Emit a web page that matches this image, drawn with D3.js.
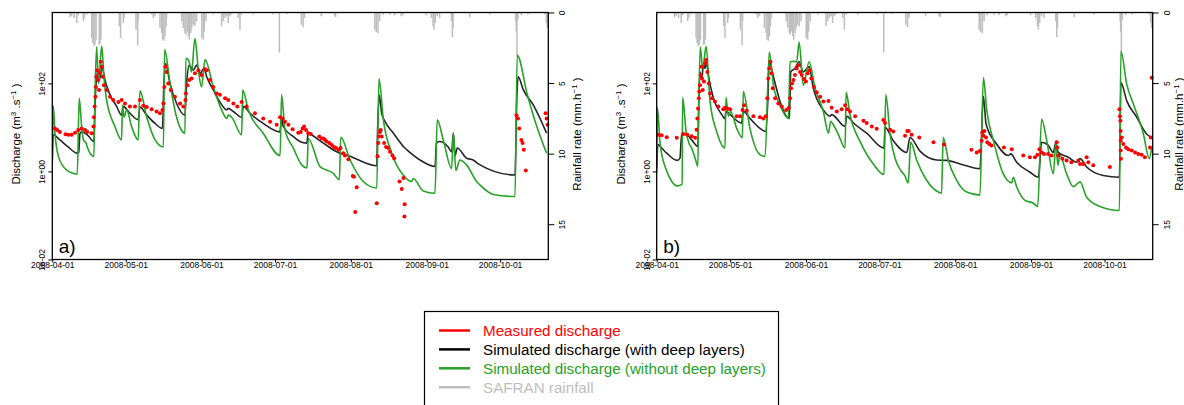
<!DOCTYPE html>
<html>
<head>
<meta charset="utf-8">
<script src="https://cdn.jsdelivr.net/npm/d3@7"></script>
<style>
  body { margin: 0; background: #fff; }
  svg { display: block; font-family: "Liberation Sans", Arial, Helvetica, sans-serif; }
</style>
</head>
<body>
<svg id="chart" width="1184" height="405"></svg>
<script>
// days are counted from 2008-04-01, discharge in m3/s, rain in mm/h
const monthTicks = ["2008-04-01", "2008-05-01", "2008-06-01", "2008-07-01", "2008-08-01", "2008-09-01", "2008-10-01"];
const qTicks = [0.01, 1, 100];
const qTickLabels = ["1e-02", "1e+00", "1e+02"];
const rainTicks = [0, 5, 10, 15];
const panelTags = ["a)", "b)"];
const legendLabels = ["Measured discharge", "Simulated discharge (with deep layers)", "Simulated discharge (without deep layers)", "SAFRAN rainfall"];

const rain = [[7.2,0.34],[7.9,0.27],[8.9,0.39],[10.0,0.74],[10.6,0.2],[12.7,0.62],[13.1,0.39],[14.1,0.15],
  [16.1,1.81],[16.5,2.16],[17.0,2.4],[17.45,2.28],[17.9,1.93],[19.2,2.28],[19.5,2.2],[19.9,1.93],
  [27.4,0.98],[27.9,1.81],[29.0,0.74],[29.3,0.39],[34.2,1.22],[34.9,2.33],[35.1,0.62],
  [40.6,0.15],[41.3,0.39],[42.0,0.27],[44.0,1.1],[44.7,1.45],[45.1,1.93],[45.6,2.0],[46.1,1.69],[46.5,0.98],[46.7,0.39],
  [52.9,0.62],[53.5,1.1],[54.2,1.45],[54.6,1.57],[55.2,1.34],[55.6,1.69],[56.0,1.93],[56.6,1.45],[57.0,1.1],[57.6,0.86],[58.3,0.98],[59.0,0.62],
  [61.1,1.81],[61.7,1.93],[62.1,1.34],[62.8,0.62],[65.8,0.15],[69.2,0.98],[69.9,0.62],[70.6,0.39],[71.3,0.27],[71.9,0.74],[72.6,0.27],[73.3,0.15],
  [76.0,0.39],[76.7,1.22],[77.4,0.15],[82.1,0.15],[90.1,0.15],[92.8,2.83],[96.0,0.11],
  [101.8,0.86],[102.5,1.05],[103.1,0.39],[109.9,0.27],[115.4,0.27],[115.8,0.34],
  [131.8,1.22],[132.4,1.38],[133.1,1.45],[133.8,0.62],[135.1,0.2],[137.9,0.15],[139.9,0.2],[142.6,0.27],[143.3,0.2],
  [152.8,0.2],[154.9,0.39],[155.6,0.98],[156.0,1.22],[156.5,0.74],[157.3,0.27],[158.3,0.39],
  [163.1,0.62],[163.5,1.76],[163.8,1.1],[170.6,0.34],[178.7,0.15],
  [189.4,0.62],[189.6,1.34],[189.9,3.11],[190.3,0.51],[191.7,0.2],[194.4,0.15],[201.2,0.15],[201.9,0.74],[202.3,1.1]];

// panel a
const measuredA = [[1.1,9.5],[2.0,8.7],[3.1,7.9],[5.4,7.0],[6.5,6.8],[7.9,6.8],[9.3,7.6],[10.6,8.7],[12.0,9.5],[13.4,8.7],[14.3,7.9],[16.1,7.4],
  [16.8,10.5],[17.0,17],[17.3,30],[17.6,50],[17.8,83],[18.0,141],[18.3,200],[18.7,119],[19.1,71],[19.5,169],[19.8,309],[20.2,240],[20.6,141],[21.1,91],
  [22.2,71],[23.6,50],[24.9,42],[27.0,38],[28.3,42],[29.7,35],[31.7,30],[33.8,30],[35.8,42],[37.2,31],[38.6,29],[40.6,26],[42.6,23],[44.0,21],
  [45.0,25],[45.4,35],[45.8,83],[46.2,240],[46.7,182],[47.4,100],[48.4,71],[50.1,50],[52.2,35],[53.5,30],[54.4,42],[54.6,59],[55.2,91],[56.0,119],
  [56.9,129],[58.3,169],[59.7,200],[61.0,155],[62.4,209],[63.1,200],[64.4,119],[65.8,83],[67.2,59],[68.5,55],[70.6,46],[71.9,42],[74.0,35],[75.6,30],
  [77.4,38],[79.4,30],[82.8,21],[86.2,16],[89.0,13.5],[91.7,11.5],
  [93.1,17],[94.1,16],[95.1,13.5],[96.5,11.5],[98.2,9.1],[100.5,7.6],[101.5,7.9],[102.3,9.5],[102.9,10.5],[103.7,8.7],[104.6,7.4],[105.6,7.1],
  [109.1,6.2],[110.1,5.6],[110.8,5.6],[111.5,5.2],[112.1,4.8],[113.2,4.4],[114.2,4.0],[115.1,3.6],[115.9,3.4],[116.9,3.1],[117.8,3.4],[118.9,2.6],
  [119.6,2.3],[121.0,1.9],[122.8,0.79],[123.3,0.76],[123.8,0.12],[124.4,0.44],
  [132.6,0.19],[132.9,2.2],[133.2,4.4],[133.5,6.2],[133.9,7.9],[134.2,8.7],[134.6,6.2],[135.6,4.4],[136.4,3.6],[137.3,3.4],[138.0,2.8],[139.0,2.3],
  [139.7,2.0],[141.9,0.59],[142.8,0.40],[143.5,0.71],[144.0,0.18],[143.9,0.095],
  [189.7,19],[190.3,16],[190.8,9.5],[191.7,5.2],[192.2,4.4],[192.7,3.1],[193.5,1.05],[201.6,21],[202.0,16],[202.4,11.5]];

const deepA = [[0,1.8],[0.4,6.8],[3.1,5.2],[6.5,3.6],[10.2,2.6],[10.8,2.7],[11.3,7.2],[12.0,7.9],[14.3,6.8],[17.0,4.8],[17.4,25],[18.1,141],
  [18.9,200],[19.5,130],[20.2,260],[21.5,119],[23.6,55],[26.3,30],[28.3,19],[29.0,30],[31.1,23],[35.1,15],[35.8,29],[38.6,19],[42.0,12.3],
  [45.0,9.5],[45.6,100],[46.3,284],[48.1,100],[50.8,35],[54.2,19],[54.9,100],[56.0,260],[57.6,200],[59.0,260],[60.4,169],[62.0,219],[63.1,141],
  [65.8,71],[68.5,38],[71.3,25],[71.9,27],[74.0,23],[77.4,17],[78.1,30],[80.8,21],[86.2,12.3],[93.0,7.9],[93.7,16],[94.4,10.5],[98.5,6.2],
  [101.2,4.8],[104.0,4.4],[104.6,7.6],[106.0,6.8],[110.8,4.4],[116.2,2.8],[121.7,2.2],[124.4,1.9],[132.6,1.35],[132.9,7.4],[133.6,54],[134.6,21],
  [136.0,13.5],[139.4,7.4],[144.1,3.4],[145.5,2.9],[150.3,1.82],[156.4,1.29],[157.0,4.4],[158.2,4.8],[161.8,3.6],[163.2,2.8],[163.9,7.4],
  [164.6,2.3],[165.5,3.4],[169.3,2.0],[172.0,1.82],[173.0,1.66],[174.8,1.41],[189.1,0.83],[189.8,42],[190.4,141],[192.5,71],[196.6,32],[202.0,7.4]];

const shallowA = [[0,1.4],[0.4,31],[1.1,7.4],[2.5,2.2],[5.9,1.07],[10.2,0.87],[11.0,46],[12.0,10.5],[12.7,5.2],[13.8,4.4],[14.3,3.6],[17.0,2.2],
  [17.4,42],[18.1,676],[18.9,100],[20.2,708],[21.1,141],[22.2,42],[25.6,10.5],[28.3,5.2],[28.7,32],[29.3,17],[30.4,25],[32.4,10.5],[35.1,5.2],
  [35.8,68],[38.6,17],[42.0,5.2],[45.4,3.6],[45.9,589],[48.1,100],[50.8,17],[54.2,7.4],[54.6,372],[55.7,339],[56.9,182],[58.3,1047],[59.7,200],
  [61.0,83],[62.4,347],[65.8,83],[69.2,25],[71.3,16],[71.9,19],[73.3,17],[77.4,6.8],[77.8,71],[80.1,25],[86.2,7.4],[93.1,2.3],[93.7,56],[95.1,8.7],
  [98.5,3.4],[101.9,1.41],[104.1,1.2],[104.6,5.6],[109.4,1.29],[114.8,0.91],[117.3,0.65],[117.9,6.0],[121.7,1.82],[127.1,0.59],[132.6,0.42],
  [133.5,129],[135.3,14.8],[138.7,2.6],[143.4,0.83],[146.9,0.59],[147.5,0.69],[151.6,0.36],[156.4,0.32],[157.3,14.8],[159.8,5.1],[163.2,1.17],
  [163.9,7.4],[164.9,1.05],[166.6,1.82],[169.3,1.41],[173.4,0.59],[174.8,0.49],[180.2,0.3],[189.1,0.27],[190.0,437],[194.0,59],[198.0,10.5],[202.0,2.6]];

// panel b
const measuredB = [[0.7,6.8],[2.0,6.6],[4.1,6.0],[8.2,5.8],[10.9,7.1],[12.5,6.8],[14.3,6.3],[15.7,5.8],[16.3,8.9],[16.6,16],[16.9,27],[17.2,46],
  [17.4,65],[17.7,91],[18.0,155],[18.3,240],[18.5,129],[18.8,71],[19.3,110],[19.8,282],[20.2,339],[20.7,182],[21.3,100],[21.8,59],[22.6,46],
  [23.8,39],[25.2,30],[27.2,26],[27.9,28],[28.9,27],[30.0,26],[32.7,18],[34.1,18],[35.1,25],[35.7,32],[36.8,24],[39.5,18],[42.2,17],[43.6,16],
  [44.6,18],[45.2,46],[45.6,129],[46.0,219],[46.5,309],[46.9,170],[47.4,78],[48.4,46],[49.7,35],[51.1,30],[52.9,25],[54.0,28],[54.5,46],[54.9,78],
  [55.3,100],[55.9,120],[56.5,155],[57.2,219],[57.9,257],[58.6,182],[59.3,155],[60.2,126],[61.0,110],[61.7,170],[62.4,200],[63.2,129],[64.3,83],
  [65.4,63],[66.8,50],[68.1,39],[70.2,40],[71.5,28],[73.6,23],[75.6,26],[77.0,32],[77.9,26],[79.0,23],[81.1,18],[84.5,14.1],[85.8,12.6],[87.9,10.5],
  [89.9,9.3],[92.6,14.8],[93.3,12.6],[95.4,8.9],[96.7,8.1],[101.5,6.5],[102.4,8.3],[103.0,8.3],[104.2,6.8],[107.3,5.9],[113.1,4.6],[117.4,4.1],
  [128.6,3.1],[130.8,2.7],[132.1,2.9],[132.8,5.0],[133.1,7.8],[133.5,6.5],[133.9,8.3],[134.6,5.9],[135.1,4.6],[135.9,4.2],[136.8,3.9],[141.9,3.5],
  [145.1,3.2],[149.8,2.3],[152.5,2.1],[154.6,2.1],[155.6,2.4],[156.4,3.2],[157.3,2.7],[158.3,2.5],[160.0,2.5],[161.4,2.3],[163.5,4.6],[163.7,3.5],
  [164.1,2.3],[165.8,1.95],[167.5,1.78],[169.5,1.62],[172.3,1.78],[173.0,1.48],[174.3,1.48],[175.7,2.1],[176.4,1.62],[178.4,1.38],[185.2,1.26],
  [189.1,26],[189.3,18],[189.5,14.1],[189.6,8.3],[189.6,5.0],[189.6,3.0],[189.7,1.95],[190.0,5.9],[190.7,4.2],[191.8,3.5],[192.7,3.2],[194.1,3.0],
  [195.5,2.7],[196.8,2.5],[198.2,2.4],[199.5,2.1],[201.6,3.5],[201.9,5.9],[202.3,134]];

const deepB = [[0,1.2],[0.5,4.1],[2.0,3.4],[4.1,2.6],[8.4,1.78],[9.5,2.0],[10.2,7.1],[12.3,6.8],[14.3,5.2],[16.8,3.7],[17.2,39],[17.7,182],
  [18.4,129],[19.1,257],[19.8,219],[20.2,339],[21.1,155],[23.2,46],[26.6,19.5],[27.9,15.8],[28.3,23],[30.0,19.5],[34.7,12.6],[35.4,23],[38.1,16],
  [42.2,9.5],[44.5,8.1],[45.4,39],[46.0,309],[47.7,141],[50.4,39],[54.2,16],[54.8,182],[56.5,219],[58.2,309],[59.9,182],[62.3,240],[64.0,78],
  [68.1,25],[70.8,18],[71.5,19.5],[77.0,10.5],[77.7,18],[80.4,12.6],[85.8,7.4],[92.9,3.4],[93.3,10],[96.7,5.0],[102.2,2.7],[103.5,5.9],[107.6,2.9],
  [114.4,1.82],[118.5,1.78],[124.0,1.48],[132.1,1.15],[133.5,51],[134.6,12],[138.9,4.2],[143.7,2.3],[144.7,2.5],[147.1,1.62],[152.6,0.96],
  [156.0,0.74],[157.3,4.6],[160.0,3.9],[162.1,2.7],[163.1,4.6],[164.1,2.7],[168.2,2.1],[171.6,1.62],[173.0,1.95],[175.7,1.26],[182.5,0.81],
  [189.1,0.74],[189.7,105],[192.1,40],[196.2,17],[200.2,7.1],[202.3,5.9]];

const shallowB = [[0,0.93],[0.3,28],[1.4,4.1],[4.1,1.02],[6.1,0.6],[8.4,0.47],[10.4,0.51],[10.6,48],[12.0,8.1],[13.4,4.1],[14.3,3.4],[15.7,2.0],
  [16.8,1.32],[17.2,39],[17.8,676],[18.8,219],[20.2,692],[21.8,39],[24.5,8.1],[27.9,3.4],[28.3,48],[29.3,18],[30.2,23],[32.7,9.5],[35.0,5.8],
  [35.4,65],[38.1,9.5],[42.2,2.4],[44.3,2.2],[46.0,513],[47.7,91],[50.4,32],[53.8,16],[54.5,309],[55.9,316],[57.2,309],[58.2,871],[59.9,91],
  [62.3,309],[64.7,78],[68.1,23],[70.2,7.4],[71.1,13.8],[72.2,11.5],[74.3,6.8],[77.0,3.4],[77.4,63],[79.0,19.5],[83.1,4.8],[88.6,1.45],[92.9,0.85],
  [93.6,56],[95.4,6.8],[97.4,2.0],[99.5,1.1],[101.4,0.8],[102.8,0.55],[103.8,4.6],[106.3,1.78],[110.3,0.63],[115.1,0.34],[116.4,0.32],[117.1,5.9],
  [119.2,1.78],[122.6,0.63],[126.7,0.34],[132.1,0.29],[133.5,135],[134.9,24],[137.6,5.0],[141.6,0.89],[145.1,0.55],[145.7,0.74],[147.1,0.45],
  [150.5,0.22],[153.9,0.19],[155.7,0.16],[157.3,15.5],[159.4,5.0],[162.1,0.89],[163.2,5.0],[163.9,1.38],[164.8,2.3],[167.5,0.89],[170.3,0.45],
  [173.0,0.58],[175.7,0.26],[181.2,0.16],[189.1,0.13],[189.7,537],[192.1,95],[194.8,34],[198.9,7.1],[201.3,1.95],[202.3,3.5]];

const colMeasured = "#ff0000";
const colDeep = "#262626";
const colShallow = "#27a127";
const colRain = "#bebebe";

const start = Date.UTC(2008, 3, 1);
const toDate = d => new Date(start + d * 864e5);
const parseDay = d3.utcParse("%Y-%m-%d");

const svg = d3.select("#chart");
const W = 496, plotTop = 12.5, plotBottom = 259.5;

function drawPanel(left, idx, measured, deep, shallow) {
  const g = svg.append("g");

  const x = d3.scaleUtc().domain([toDate(0), toDate(202.7)]).range([left, left + W]);
  const y = d3.scaleLog().domain([0.01, Math.pow(10, 3.61)]).range([plotBottom, plotTop]);
  const yRain = d3.scaleLinear().domain([0, 17.5]).range([plotTop, plotBottom]);

  const clipId = "clip" + idx;
  g.append("clipPath").attr("id", clipId)
    .append("rect").attr("x", left).attr("y", plotTop).attr("width", W).attr("height", plotBottom - plotTop);

  const plot = g.append("g").attr("clip-path", `url(#${clipId})`);

  plot.append("g").selectAll("line")
    .data(rain)
    .join("line")
    .attr("x1", d => x(toDate(d[0])))
    .attr("x2", d => x(toDate(d[0])))
    .attr("y1", yRain(0))
    .attr("y2", d => yRain(d[1]))
    .attr("stroke", colRain)
    .attr("stroke-width", 1.5);

  const line = d3.line()
    .curve(d3.curveMonotoneX)
    .x(d => x(toDate(d[0])))
    .y(d => y(d[1]));

  plot.append("path").datum(deep)
    .attr("d", line).attr("fill", "none")
    .attr("stroke", colDeep).attr("stroke-width", 1.6);

  plot.append("path").datum(shallow)
    .attr("d", line).attr("fill", "none")
    .attr("stroke", colShallow).attr("stroke-width", 1.6);

  g.append("g").selectAll("circle")
    .data(measured)
    .join("circle")
    .attr("cx", d => x(toDate(d[0])))
    .attr("cy", d => y(d[1]))
    .attr("r", 2)
    .attr("fill", colMeasured);

  // axes
  const xAxis = g.append("g")
    .attr("transform", `translate(0,${plotBottom})`)
    .call(d3.axisBottom(x).tickValues(monthTicks.map(parseDay)).tickFormat(d3.utcFormat("%Y-%m-%d")).tickSize(3));
  xAxis.selectAll("text").attr("y", 2.5).attr("font-size", 8.5).attr("fill", "#000");

  const yAxis = g.append("g")
    .attr("transform", `translate(${left},0)`)
    .call(d3.axisLeft(y).tickValues(qTicks).tickFormat((d, i) => qTickLabels[i]).tickSize(4));
  yAxis.selectAll("text")
    .attr("transform", "rotate(-90)")
    .attr("text-anchor", "middle")
    .attr("x", 0).attr("y", -7).attr("dy", 0)
    .attr("font-size", 8.5).attr("fill", "#000");

  const rAxis = g.append("g")
    .attr("transform", `translate(${left + W},0)`)
    .call(d3.axisRight(yRain).tickValues(rainTicks).tickSize(6));
  rAxis.selectAll("text")
    .attr("transform", "rotate(-90)")
    .attr("text-anchor", "middle")
    .attr("x", 0).attr("y", 17).attr("dy", 0)
    .attr("font-size", 8.5).attr("fill", "#000");

  [xAxis, yAxis, rAxis].forEach(a => {
    a.select(".domain").remove();
    a.selectAll("line").attr("stroke", "#000");
  });

  g.append("rect")
    .attr("x", left).attr("y", plotTop)
    .attr("width", W).attr("height", plotBottom - plotTop)
    .attr("fill", "none").attr("stroke", "#000").attr("stroke-width", 1.3);

  // axis titles
  const ql = g.append("text")
    .attr("transform", `translate(${left - 32},134) rotate(-90)`)
    .attr("text-anchor", "middle")
    .attr("font-size", 11.5);
  ql.append("tspan").text("Discharge (m");
  ql.append("tspan").attr("dy", -4).attr("font-size", 8).text("3");
  ql.append("tspan").attr("dy", 4).text(" .s");
  ql.append("tspan").attr("dy", -4).attr("font-size", 8).text("\u22121");
  ql.append("tspan").attr("dy", 4).text(" )");

  // the right title sits at the page edge on panel b, keep it inside
  const rx = Math.min(left + W + 33, 1182.5);
  const rl = g.append("text")
    .attr("transform", `translate(${rx},134) rotate(-90)`)
    .attr("text-anchor", "middle")
    .attr("font-size", 11.5);
  rl.append("tspan").text("Rainfall rate (mm.h");
  rl.append("tspan").attr("dy", -4).attr("font-size", 8).text("\u22121");
  rl.append("tspan").attr("dy", 4).text(" )");

  g.append("text")
    .attr("x", left + 6.5).attr("y", 253)
    .attr("font-size", 19)
    .text(panelTags[idx]);
}

drawPanel(52.3, 0, measuredA, deepA, shallowA);
drawPanel(656.7, 1, measuredB, deepB, shallowB);

// legend
const legendColors = [colMeasured, "#000", colShallow, colRain];
const lg = svg.append("g");
lg.append("rect")
  .attr("x", 424.5).attr("y", 311.5)
  .attr("width", 354).attr("height", 120)
  .attr("fill", "#fff").attr("stroke", "#000").attr("stroke-width", 1.2);

const rows = lg.selectAll("g.row")
  .data(legendLabels)
  .join("g")
  .attr("class", "row")
  .attr("transform", (d, i) => `translate(0,${330.5 + i * 18.9})`);

rows.append("line")
  .attr("x1", 439).attr("x2", 470)
  .attr("stroke", (d, i) => legendColors[i])
  .attr("stroke-width", 2.5);

rows.append("text")
  .attr("x", 483).attr("dy", "0.36em")
  .attr("font-size", 15.2)
  .attr("fill", (d, i) => legendColors[i])
  .text(d => d);
</script>
</body>
</html>
